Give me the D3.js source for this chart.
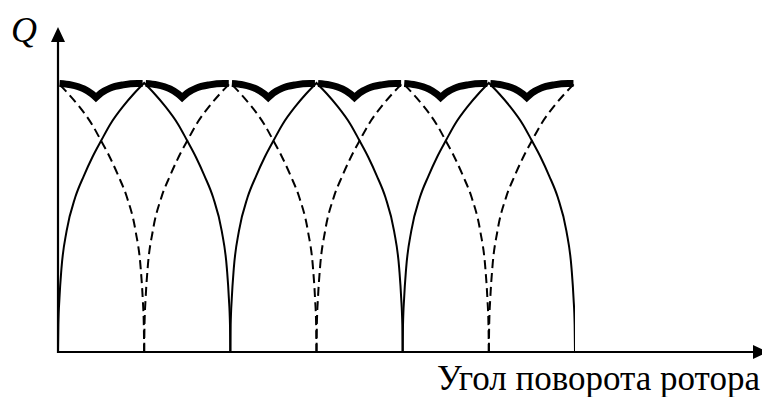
<!DOCTYPE html>
<html>
<head>
<meta charset="utf-8">
<script src="https://cdn.jsdelivr.net/npm/d3@7"></script>
<style>
  html, body { margin: 0; padding: 0; background: #fff; }
  svg { display: block; }
</style>
</head>
<body>
<svg id="chart" width="762" height="397"></svg>
<script>
// Rising half of one pole arch: [angle from the arch foot, relative Q]
const archRise = [
  [0, 0], [0.004, 0.10], [0.017, 0.20], [0.04, 0.31], [0.10, 0.45],
  [0.20, 0.575], [0.30, 0.655], [0.40, 0.725], [0.508, 0.79],
  [0.605, 0.846], [0.76, 0.915], [0.88, 0.96], [1, 1]
];
// Feet of the solid arches (one phase) and the dashed arches (the other phase)
const solidArchStarts = [0, 2, 4];
const dashedArchStarts = [-1, 1, 3, 5];

// Resulting total Q: one ripple between neighbouring peaks, split at its dip
const rippleFall = [[0.018, 0.998], [0.15, 0.993], [0.30, 0.978], [0.395, 0.959], [0.44, 0.946]];
const rippleRise = [[0.44, 0.946], [0.50, 0.963], [0.605, 0.981], [0.756, 0.993], [0.92, 0.998], [0.982, 0.998]];
const rippleStarts = [0, 1, 2, 3, 4, 5];

const axisLabelX = "Угол поворота ротора";
const axisLabelY = "Q";

const svg = d3.select("#chart");
const x = d3.scaleLinear().domain([0, 6]).range([58, 575]);
const y = d3.scaleLinear().domain([0, 1]).range([352, 83]);

const line = d3.line()
  .x(d => x(d[0]))
  .y(d => y(d[1]))
  .curve(d3.curveMonotoneX);

// Join several smooth pieces into one path with sharp corners between them
function joined(parts) {
  return parts.map((p, i) => {
    const d = line(p);
    return i ? d.replace(/^M/, "L") : d;
  }).join("");
}

function archParts(s) {
  const left = archRise.map(([t, r]) => [s + t, r]);
  const right = archRise.slice().reverse().map(([t, r]) => [s + 2 - t, r]);
  return [left, right];
}

svg.append("defs").append("clipPath").attr("id", "plotClip")
  .append("rect")
  .attr("x", x(0)).attr("y", 0)
  .attr("width", x(6) - x(0)).attr("height", y(0) + 2);

// Axes with arrowheads
const axisG = svg.append("g").attr("stroke", "#000").attr("fill", "#000");
const xEnd = 753, yEnd = 42;
axisG.append("line")
  .attr("x1", x(0) - 1).attr("x2", xEnd)
  .attr("y1", y(0)).attr("y2", y(0))
  .attr("stroke-width", 2.2);
axisG.append("line")
  .attr("x1", x(0)).attr("x2", x(0))
  .attr("y1", y(0) + 1).attr("y2", yEnd)
  .attr("stroke-width", 2.2);
axisG.append("path")
  .attr("stroke", "none")
  .attr("d", `M${xEnd},${y(0) - 7}L${xEnd + 15},${y(0)}L${xEnd},${y(0) + 7}Z`);
axisG.append("path")
  .attr("stroke", "none")
  .attr("d", `M${x(0) - 7},${yEnd}L${x(0)},${yEnd - 15}L${x(0) + 7},${yEnd}Z`);

const plot = svg.append("g").attr("clip-path", "url(#plotClip)");

// Dashed arches
plot.selectAll("path.dashed")
  .data(dashedArchStarts)
  .join("path")
  .attr("class", "dashed")
  .attr("d", s => joined(archParts(s)))
  .attr("fill", "none")
  .attr("stroke", "#000")
  .attr("stroke-width", 2)
  .attr("stroke-dasharray", "9,5");

// Solid arches
plot.selectAll("path.solid")
  .data(solidArchStarts)
  .join("path")
  .attr("class", "solid")
  .attr("d", s => joined(archParts(s)))
  .attr("fill", "none")
  .attr("stroke", "#000")
  .attr("stroke-width", 2)
  .attr("stroke-linejoin", "miter");

// Thick resulting curve
svg.selectAll("path.total")
  .data(rippleStarts)
  .join("path")
  .attr("class", "total")
  .attr("d", s => joined([
    rippleFall.map(([u, q]) => [s + u, q]),
    rippleRise.map(([u, q]) => [s + u, q])
  ]))
  .attr("fill", "none")
  .attr("stroke", "#000")
  .attr("stroke-width", 7)
  .attr("stroke-linecap", "butt")
  .attr("stroke-linejoin", "miter")
  .attr("stroke-miterlimit", 10);

// Axis titles
svg.append("text")
  .attr("x", 11).attr("y", 42)
  .attr("font-family", "Liberation Serif")
  .attr("font-style", "italic")
  .attr("font-size", 36)
  .attr("fill", "#000")
  .text(axisLabelY);

svg.append("text")
  .attr("x", 760).attr("y", 390)
  .attr("text-anchor", "end")
  .attr("font-family", "Liberation Serif")
  .attr("font-size", 35)
  .attr("fill", "#000")
  .text(axisLabelX);
</script>
</body>
</html>
